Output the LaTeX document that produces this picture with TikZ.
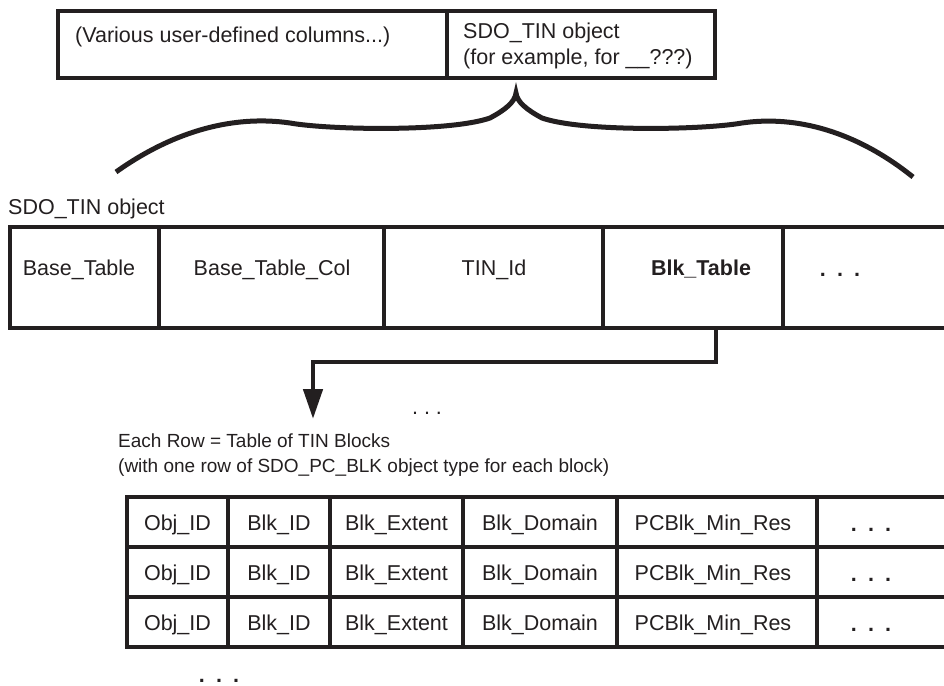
\documentclass[tikz,border=0pt]{standalone}
\usepackage{fontspec}
\setmainfont{Liberation Sans}
\usetikzlibrary{arrows.meta}
\definecolor{ink}{RGB}{35,31,32}
\newcommand{\bdots}{{\bfseries .\hspace{0.52em}.\hspace{0.52em}.}}
\begin{document}
\begin{tikzpicture}[x=1pt,y=-1pt,
  cell/.style={draw=ink, line width=4.5pt, rectangle, inner sep=0pt, outer sep=0pt},
  txt/.style={text=ink, font=\fontsize{21.5}{25}\selectfont, inner sep=0pt},
  stxt/.style={text=ink, font=\fontsize{19}{23}\selectfont, inner sep=0pt},
  conn/.style={draw=ink, line width=4.7pt},
  bracepath/.style={draw=ink, line width=5pt, line cap=butt}]
\useasboundingbox (0,0) rectangle (944,685);

% top record
\node[cell, minimum width=389pt, minimum height=67pt] (ucols) at (252.5,44.5) {};
\node[cell, minimum width=268pt, minimum height=67pt] (tincol) at (581,44.5) {};
\node[txt, anchor=base west] (ucolstxt) at (75,43) {(Various user-defined columns...)};
\node[txt, anchor=base west] (tintxt1) at (463,39) {SDO\_TIN object};
\node[txt, anchor=base west] (tintxt2) at (463,64) {(for example, for \_\_???)};

% brace
\coordinate (braceL) at (116,172);
\coordinate (braceTip) at (516,93);
\coordinate (braceR) at (913,177);
\draw[bracepath] (braceL) .. controls (175,130) and (235,115) .. (290,123)
   .. controls (330,130) and (450,132) .. (490,118)
   .. controls (505,110) and (515,102) .. (braceTip)
   .. controls (517,102) and (527,110) .. (542,118)
   .. controls (582,132) and (702,130) .. (742,123)
   .. controls (797,115) and (857,132) .. (braceR);

% SDO_TIN object record
\node[txt, anchor=base west] (sdolabel) at (8,214) {SDO\_TIN object};
\node[cell, minimum width=149pt, minimum height=101pt] (bt) at (84.5,277.5) {};
\node[cell, minimum width=225pt, minimum height=101pt] (btc) at (271.5,277.5) {};
\node[cell, minimum width=219pt, minimum height=101pt] (tid) at (493.5,277.5) {};
\node[cell, minimum width=180pt, minimum height=101pt] (blk) at (693,277.5) {};
\node[cell, minimum width=180pt, minimum height=101pt] (more) at (873,277.5) {};
\node[txt, anchor=base] (bttxt) at (79,275) {Base\_Table};
\node[txt, anchor=base] (btctxt) at (272,275) {Base\_Table\_Col};
\node[txt, anchor=base] (tidtxt) at (494,275) {TIN\_Id};
\node[txt, anchor=base, font=\fontsize{21.5}{25}\selectfont\bfseries] (blktxt) at (701,275) {Blk\_Table};
\node[txt, anchor=base] (moretxt) at (840,276) {\bdots};

% connector
\coordinate (arrowtip) at (313,419);
\draw[conn, -{Triangle[width=19pt, length=30pt]}] ([xshift=23pt]blk.south) -- ++(0,34) -| (arrowtip);
\node[txt, anchor=base] (middots) at (427,414) {.\ .\ .};

% caption
\node[stxt, anchor=base west] (cap1) at (118,447) {Each Row = Table of TIN Blocks};
\node[stxt, anchor=base west] (cap2) at (118,472) {(with one row of SDO\_PC\_BLK object type for each block)};

% block table
\foreach \r/\yc in {1/522, 2/572, 3/622} {
  \node[cell, minimum width=101pt, minimum height=50pt] (obj\r) at (177.5,\yc) {};
  \node[cell, minimum width=102pt, minimum height=50pt] (bid\r) at (279,\yc) {};
  \node[cell, minimum width=133pt, minimum height=50pt] (bext\r) at (396.5,\yc) {};
  \node[cell, minimum width=154pt, minimum height=50pt] (bdom\r) at (540,\yc) {};
  \node[cell, minimum width=200pt, minimum height=50pt] (pcb\r) at (717,\yc) {};
  \node[cell, minimum width=160pt, minimum height=50pt] (bmore\r) at (897,\yc) {};
  \node[txt, anchor=base] (objt\r) at (177.5,\yc+8) {Obj\_ID};
  \node[txt, anchor=base] (bidt\r) at (279,\yc+8) {Blk\_ID};
  \node[txt, anchor=base] (bextt\r) at (396.5,\yc+8) {Blk\_Extent};
  \node[txt, anchor=base] (bdomt\r) at (540,\yc+8) {Blk\_Domain};
  \node[txt, anchor=base] (pcbt\r) at (713,\yc+8) {PCBlk\_Min\_Res};
  \node[txt, anchor=base] (bmoret\r) at (871,\yc+9) {\bdots};
}
\node[txt, anchor=base] (enddots) at (219,682) {\bdots};
\end{tikzpicture}
\end{document}
